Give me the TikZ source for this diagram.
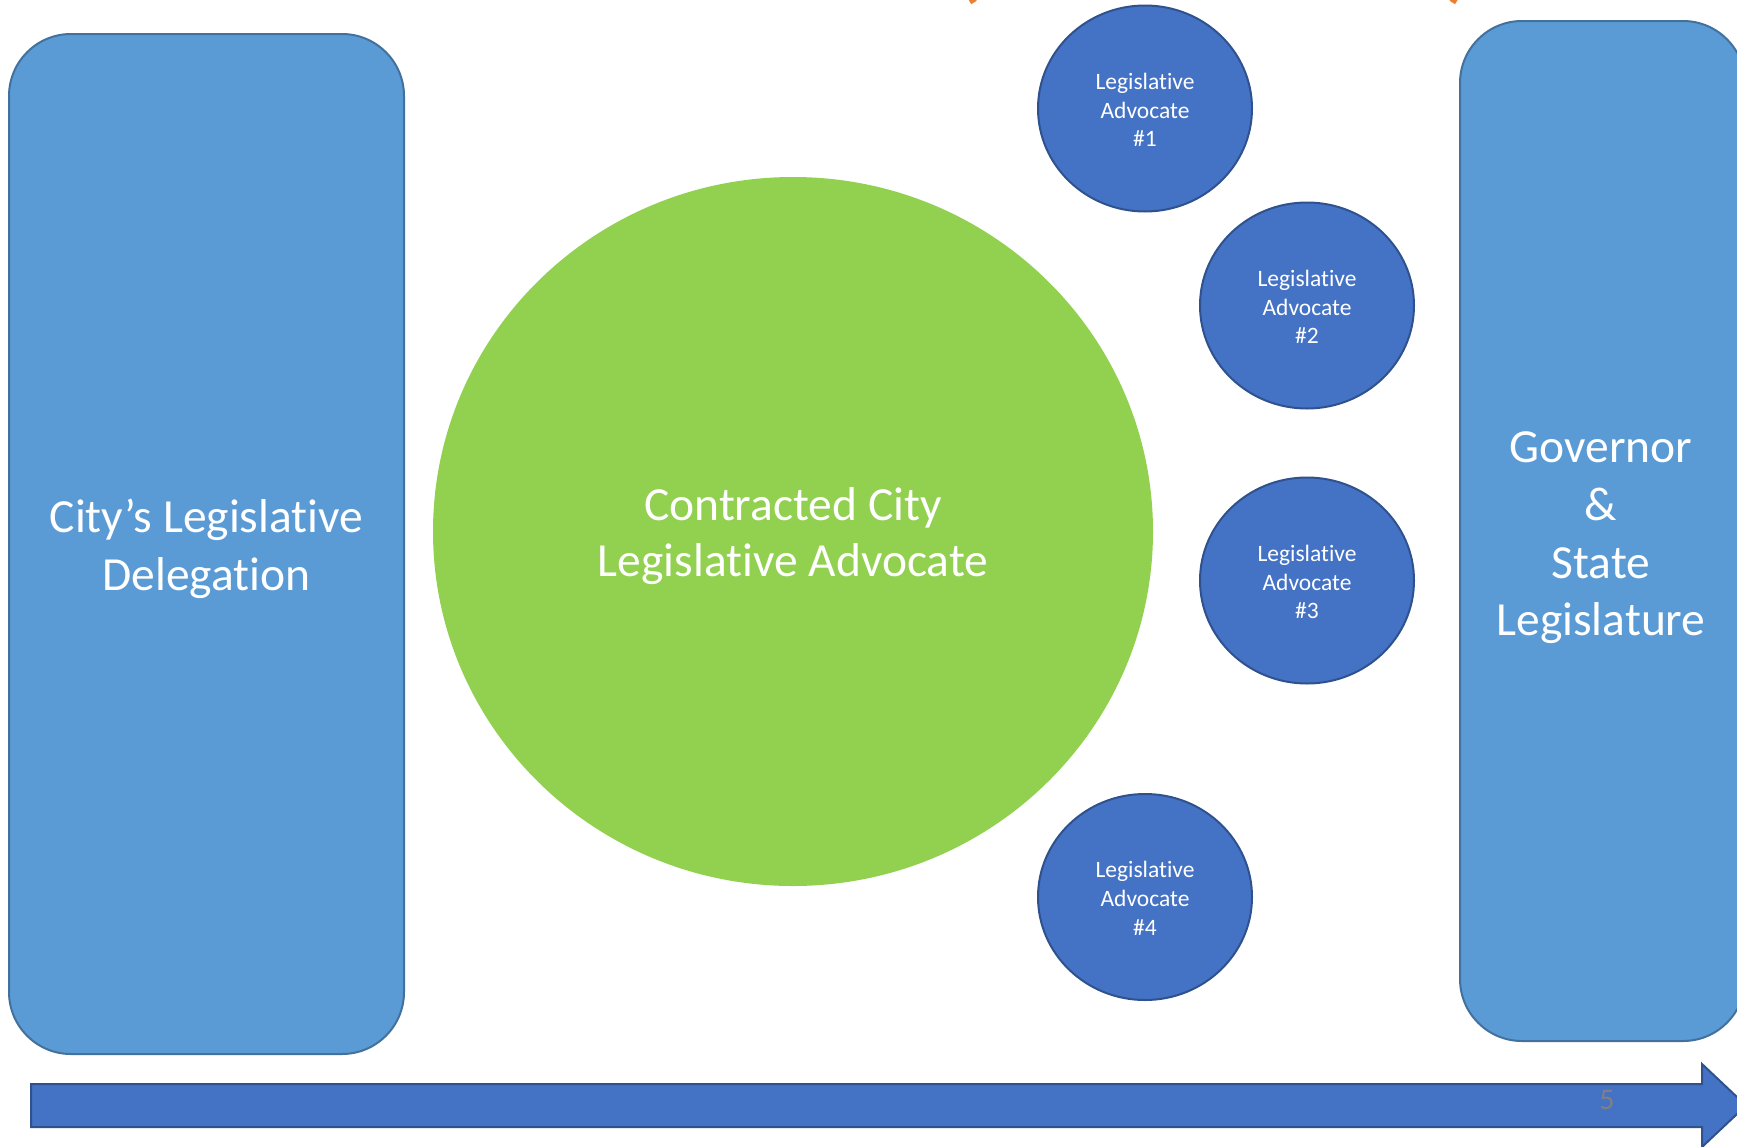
\documentclass[tikz,border=0pt]{standalone}
\usepackage{fontspec}
\setmainfont{Carlito}[Ligatures=NoCommon]
\usetikzlibrary{shapes.geometric}
\definecolor{rectblue}{HTML}{5B9BD5}
\definecolor{rectedge}{HTML}{41719C}
\definecolor{darkblue}{HTML}{4472C4}
\definecolor{darkedge}{HTML}{2F528F}
\definecolor{bigreen}{HTML}{92D050}
\definecolor{orangeT}{HTML}{ED7D31}
\tikzset{
  panel/.style={draw=rectedge, fill=rectblue, line width=2pt, rounded corners=62pt, inner sep=0pt},
  bigtext/.style={text=white, align=center, font=\fontsize{47.5}{57.6}\selectfont, inner sep=0pt},
  bigcircle/.style={ellipse, fill=bigreen, draw=none, inner sep=0pt},
  advocate/.style={ellipse, fill=darkblue, draw=darkedge, line width=2pt,
    minimum width=214pt, minimum height=206pt, inner sep=0pt},
  advtext/.style={text=white, align=center, font=\fontsize{23.5}{28.8}\selectfont, inner sep=0pt},
  timearrow/.style={fill=darkblue, draw=darkedge, line width=2pt},
  paren/.style={text=orangeT, inner sep=0pt, font=\fontsize{110}{110}\selectfont}
}
\begin{document}
\begin{tikzpicture}[x=1pt,y=-1pt]
\useasboundingbox (0,0) rectangle (1737,1146);
\clip (0,0) rectangle (1737,1146);
\fill[white] (0,0) rectangle (1737,1146);
% clipped title brackets
\node[paren, anchor=south] (lp) at (966,5) {(};
\node[paren, anchor=south] (rp) at (1461,5) {)};
% left panel
\node[panel, minimum width=395pt, minimum height=1020pt] (city) at (206.5,544) {};
\node[bigtext] (citytext) at (206.5,549) {City’s Legislative\\Delegation};
% right panel
\node[panel, minimum width=285pt, minimum height=1020pt] (gov) at (1602.5,531) {};
\node[bigtext] (govtext) at (1601,538) {Governor\\\&\\State\\Legislature};
% big circle
\node[bigcircle, minimum width=720pt, minimum height=709pt] (contract) at (793,531.5) {};
\node[bigtext, font=\fontsize{47.5}{56.5}\selectfont] (contracttext) at (793,536)
  {Contracted City\\Legislative Advocate};
% small circles
\node[advocate] (a1) at (1145,108.5) {};
\node[advocate] (a2) at (1307,305.5) {};
\node[advocate] (a3) at (1307,580.5) {};
\node[advocate] (a4) at (1145,897) {};
\node[advtext] (a1t) at (1145,110) {Legislative\\Advocate\\\#1};
\node[advtext] (a2t) at (1307,307) {Legislative\\Advocate\\\#2};
\node[advtext] (a3t) at (1307,582) {Legislative\\Advocate\\\#3};
\node[advtext] (a4t) at (1145,898.5) {Legislative\\Advocate\\\#4};
% bottom arrow
\draw[timearrow] (31,1084) -- (1702,1084) -- (1702,1064) -- (1746,1105.5)
  -- (1702,1147) -- (1702,1127) -- (31,1127) -- cycle;
\node[text=gray, font=\fontsize{30}{30}\selectfont, inner sep=0pt] (pg) at (1607,1100) {5};
\end{tikzpicture}
\end{document}
